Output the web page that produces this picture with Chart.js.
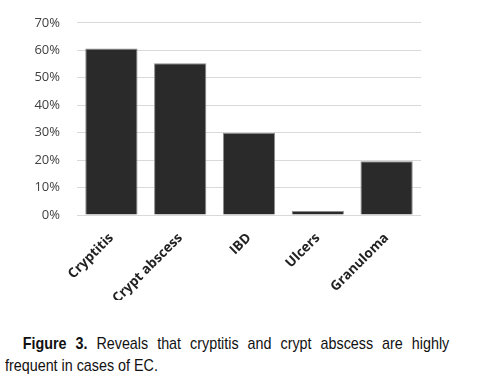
<!DOCTYPE html>
<html>
<head>
<meta charset="utf-8">
<script src="https://cdn.jsdelivr.net/npm/chart.js@4/dist/chart.umd.min.js"></script>
<style>
  html, body { margin: 0; padding: 0; background: #fff; }
  #wrap { position: absolute; left: 0; top: -2px; width: 477px; height: 302px; }
  .cap {
    position: absolute; left: 5px;
    transform: scaleX(0.843); transform-origin: 0 0;
    font-family: "Liberation Sans", Arial, sans-serif;
    font-size: 17px; line-height: 22px; color: #111;
    white-space: nowrap;
  }
  #cap1 { top: 333px; text-align: justify; text-align-last: justify; padding-left: 21px; width: 506px; white-space: normal; }
  #cap2 { top: 355px; }
  .cap b { font-weight: bold; }
</style>
</head>
<body>
<div id="wrap"><canvas id="c"></canvas></div>
<div class="cap" id="cap1"><b>Figure 3.</b> Reveals that cryptitis and crypt abscess are highly</div>
<div class="cap" id="cap2">frequent in cases of EC.</div>
<script>
const categories = ["Cryptitis", "Crypt abscess", "IBD", "Ulcers", "Granuloma"];
const values = [60.6, 55.3, 30, 1.5, 19.6];
const yTicks = [0, 10, 20, 30, 40, 50, 60, 70];

new Chart(document.getElementById('c'), {
  type: 'bar',
  data: {
    labels: categories,
    datasets: [{
      data: values,
      backgroundColor: '#2a2a2a',
      borderColor: '#8c8c8c',
      borderWidth: 1,
      categoryPercentage: 1,
      barPercentage: 0.76
    }]
  },
  options: {
    responsive: true,
    maintainAspectRatio: false,
    animation: false,
    devicePixelRatio: 1,
    layout: { padding: { top: 19, right: 56, left: 0, bottom: 0 } },
    plugins: { legend: { display: false }, tooltip: { enabled: false } },
    scales: {
      x: {
        grid: { display: false, drawTicks: false },
        border: { display: false },
        ticks: {
          minRotation: 45, maxRotation: 45,
          color: '#222',
          padding: 15,
          font: { family: 'Open Sans', size: 13.5, weight: 'bold' }
        },
        afterFit: s => { s.height = 85; }
      },
      y: {
        min: 0, max: 70,
        afterBuildTicks: s => { s.ticks = yTicks.map(v => ({ value: v })); },
        grid: { color: '#d9d9d9', lineWidth: 1, drawTicks: false },
        border: { display: false },
        ticks: {
          color: '#404040',
          padding: 17,
          font: { family: 'Open Sans', size: 13 },
          callback: v => v + '%'
        },
        afterFit: s => { s.width = 77; }
      }
    }
  }
});
</script>
</body>
</html>
